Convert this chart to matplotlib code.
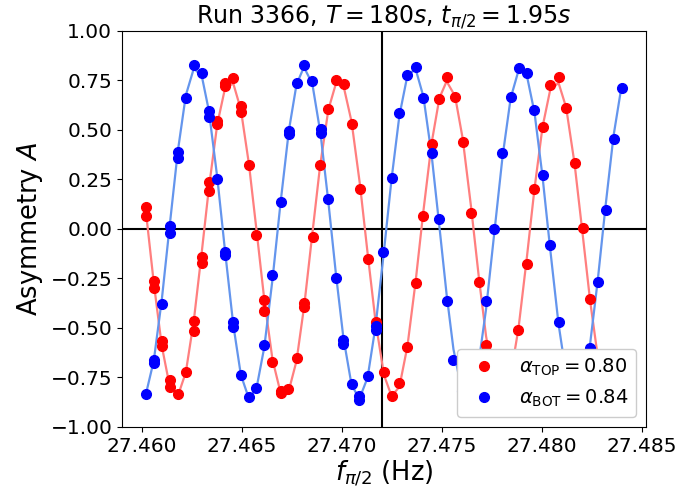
import numpy as np
import matplotlib
matplotlib.use("Agg")
import matplotlib.pyplot as plt

# ---- data ----
freq_top = [27.4602, 27.4602, 27.4606, 27.4606, 27.4610, 27.4610, 27.4614, 27.4614,
            27.4618, 27.4622, 27.4626, 27.4626, 27.4630, 27.4630, 27.46335, 27.46335,
            27.46377, 27.46377, 27.46415, 27.46415, 27.46457, 27.46495, 27.46495, 27.46535,
            27.46573, 27.46612, 27.46612, 27.46653, 27.46693, 27.46693, 27.4673, 27.46773,
            27.46812, 27.46812, 27.46853, 27.4689, 27.46932, 27.4697, 27.4701, 27.47048,
            27.4709, 27.47128, 27.47168, 27.4721, 27.47248, 27.47287, 27.47327, 27.47368,
            27.47407, 27.47448, 27.47487, 27.47523, 27.47565, 27.47603, 27.47645, 27.47685,
            27.4772, 27.4776, 27.4780, 27.4784, 27.47882, 27.47923, 27.47962, 27.48002,
            27.4804, 27.48082, 27.4812, 27.48162, 27.48202, 27.4824, 27.4828, 27.4832,
            27.4836, 27.4840]
asym_top = [0.113, 0.066, -0.263, -0.296, -0.564, -0.591, -0.763, -0.796,
            -0.833, -0.724, -0.463, -0.515, -0.140, -0.173, 0.236, 0.194,
            0.547, 0.530, 0.736, 0.720, 0.761, 0.621, 0.592, 0.323,
            -0.030, -0.359, -0.413, -0.670, -0.816, -0.830, -0.806, -0.653,
            -0.375, -0.394, -0.042, 0.323, 0.604, 0.753, 0.730, 0.529,
            0.200, -0.152, -0.470, -0.724, -0.842, -0.776, -0.594, -0.274,
            0.067, 0.428, 0.655, 0.770, 0.668, 0.441, 0.079, -0.269,
            -0.586, -0.760, -0.800, -0.740, -0.510, -0.178, 0.200, 0.517,
            0.727, 0.766, 0.610, 0.335, 0.004, -0.355, -0.640, -0.790,
            -0.800, -0.700]

freq_bot = [27.4602, 27.4606, 27.4606, 27.4610, 27.4614, 27.4614, 27.4618, 27.4618,
            27.4622, 27.4626, 27.4630, 27.46335, 27.46335, 27.46377, 27.46415, 27.46415,
            27.46457, 27.46457, 27.46495, 27.46535, 27.46573, 27.46612, 27.46653, 27.46693,
            27.46735, 27.46735, 27.46773, 27.4681, 27.46852, 27.46893, 27.46893, 27.46932,
            27.4697, 27.47007, 27.47007, 27.47048, 27.47087, 27.47087, 27.47128, 27.47168,
            27.47168, 27.47207, 27.47248, 27.47287, 27.47327, 27.47368, 27.47407, 27.47448,
            27.47487, 27.47523, 27.47557, 27.4760, 27.4764, 27.4768, 27.4772, 27.47762,
            27.47802, 27.47843, 27.47885, 27.47923, 27.47962, 27.48002, 27.4804, 27.48082,
            27.4812, 27.4816, 27.4820, 27.4824, 27.48278, 27.48318, 27.48357, 27.48398]
asym_bot = [-0.833, -0.662, -0.678, -0.380, 0.015, -0.019, 0.390, 0.357,
            0.663, 0.828, 0.790, 0.596, 0.567, 0.250, -0.115, -0.131,
            -0.468, -0.497, -0.737, -0.847, -0.805, -0.586, -0.232, 0.135,
            0.495, 0.478, 0.736, 0.828, 0.747, 0.505, 0.483, 0.150,
            -0.249, -0.561, -0.581, -0.784, -0.842, -0.864, -0.741, -0.490,
            -0.510, -0.118, 0.256, 0.584, 0.778, 0.820, 0.663, 0.382,
            0.050, -0.362, -0.662, -0.820, -0.830, -0.660, -0.364, 0.000,
            0.382, 0.668, 0.815, 0.786, 0.601, 0.273, -0.081, -0.468,
            -0.720, -0.840, -0.780, -0.603, -0.266, 0.096, 0.453, 0.710]

f_center = 27.472
title = r'Run 3366, $T = 180s$, $t_{\pi/2} = 1.95s$'
label_top = r'$\alpha_{\rm TOP} = 0.80$'
label_bot = r'$\alpha_{\rm BOT} = 0.84$'


def sine_fit(f, a):
    """Least-squares sinusoid fit (grid search on period, linear in the rest)."""
    f = np.asarray(f) - 27.46
    a = np.asarray(a)
    best = None
    for P in np.linspace(0.0050, 0.0060, 2001):
        w = 2 * np.pi / P
        M = np.column_stack([np.cos(w * f), np.sin(w * f), np.ones_like(f)])
        coef, *_ = np.linalg.lstsq(M, a, rcond=None)
        r = np.sum((M @ coef - a) ** 2)
        if best is None or r < best[0]:
            best = (r, w, coef)
    _, w, c = best

    def model(x):
        x = np.asarray(x) - 27.46
        return c[0] * np.cos(w * x) + c[1] * np.sin(w * x) + c[2]
    return model


fig = plt.figure(figsize=(6.83, 4.98), dpi=100)
ax = fig.add_axes([0.1786, 0.1426, 0.9458 - 0.1786, 0.9378 - 0.1426])

ax.axhline(0, color='black', lw=1.5, zorder=1)
ax.axvline(f_center, color='black', lw=1.5, zorder=1)

for fr, am, col, lcol, lab in [(freq_top, asym_top, 'red', '#ff7f7f', label_top),
                                (freq_bot, asym_bot, 'blue', '#6495ed', label_bot)]:
    model = sine_fit(fr, am)
    xs = np.unique(fr)
    ax.plot(xs, model(xs), color=lcol, lw=1.6, zorder=2)
    ax.plot(fr, am, 'o', color=col, ms=7, label=lab, zorder=3)

ax.set_ylim(-1.0, 1.0)
ax.set_xticks([27.460, 27.465, 27.470, 27.475, 27.480, 27.485])
ax.set_xticklabels(['27.460', '27.465', '27.470', '27.475', '27.480', '27.485'])
ax.set_yticks([-1.0, -0.75, -0.5, -0.25, 0.0, 0.25, 0.5, 0.75, 1.0])
ax.set_yticklabels(['−1.00', '−0.75', '−0.50', '−0.25', '0.00', '0.25', '0.50', '0.75', '1.00'])
ax.tick_params(labelsize=14.5)
ax.set_xlabel(r'$f_{\pi/2}$ (Hz)', fontsize=18.5, labelpad=2)
ax.set_ylabel(r'Asymmetry $A$', fontsize=18.5, labelpad=4)
ax.set_title(title, fontsize=17, pad=5)
leg = ax.legend(loc='lower right', fontsize=14, framealpha=1.0)
leg.set_zorder(10)

fig.savefig('out.png', dpi=100)
